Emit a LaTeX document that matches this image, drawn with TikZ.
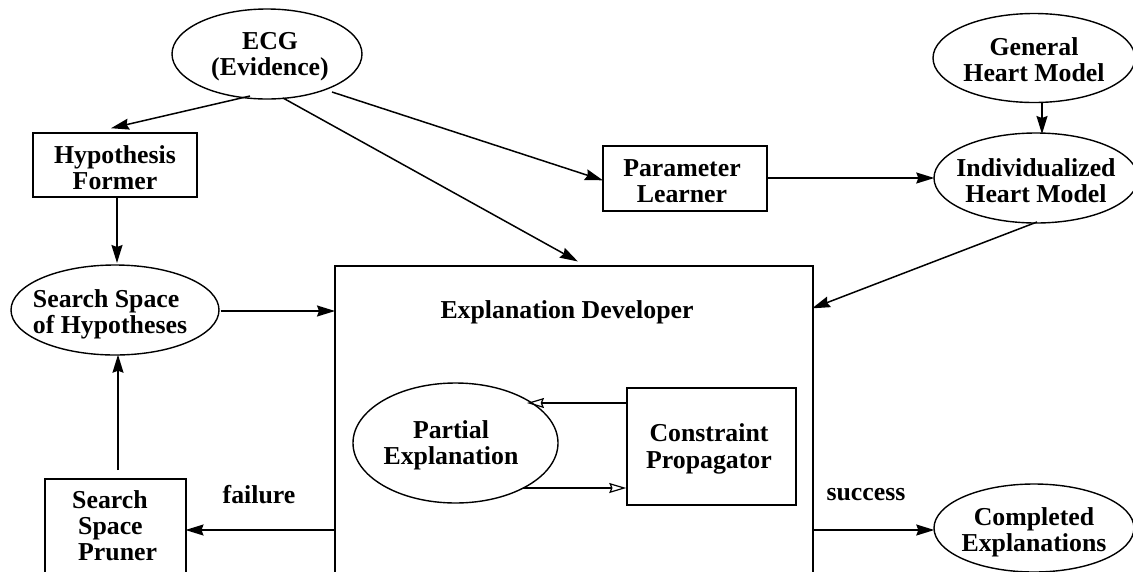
\documentclass[tikz,border=0pt]{standalone}
\usepackage{fontspec}
\setmainfont{Liberation Serif}
\usetikzlibrary{shapes.geometric,arrows.meta}
\tikzset{
 lbl/.style={font=\fontsize{25.8}{26.3}\selectfont\bfseries,align=center,inner sep=0pt},
 ell/.style={draw,line width=1.4pt,ellipse,inner sep=0pt},
 bx/.style={draw,line width=1.5pt,inner sep=0pt},
 arr/.style={line width=1.5pt,-{Stealth[length=18pt,width=11pt,inset=2pt]},shorten >=-1pt},
 oarr/.style={line width=1.2pt,-{Stealth[open,length=17pt,width=10pt,inset=2pt]}}
}
\begin{document}
\begin{tikzpicture}[x=1pt,y=-1pt]
\useasboundingbox (0,0) rectangle (1133,571);
\begin{scope}
\clip (0,0) rectangle (1133,571);
\node[ell,minimum width=190,minimum height=90] (ecg) at (267,54) {};
\node[lbl] (ecgt) at (270,57) {ECG\\(Evidence)};
\node[ell,minimum width=202,minimum height=89] (ghm) at (1034,58) {};
\node[lbl] (ghmt) at (1034,60) {General\\Heart Model};
\node[ell,minimum width=204,minimum height=90] (ihm) at (1036,178) {};
\node[lbl] (ihmt) at (1036,181) {Individualized\\Heart Model};
\node[bx,minimum width=164,minimum height=64] (hf) at (115,165) {};
\node[lbl] (hft) at (115,168) {Hypothesis\\Former};
\node[bx,minimum width=164,minimum height=65] (pl) at (685,178.5) {};
\node[lbl] (plt) at (682,181) {Parameter\\Learner};
\node[ell,minimum width=208,minimum height=90] (ss) at (115,310) {};
\node[lbl,align=left] (sst) at (110,314) {Search Space\\of Hypotheses};
\node[bx,line width=1.7pt,minimum width=478,minimum height=340,anchor=north west] (ed) at (334,265) {};
\node[lbl] (edl) at (567,312) {Explanation Developer};
\node[ell,minimum width=205,minimum height=120] (pe) at (455.5,443) {};
\node[lbl] (pet) at (451,445) {Partial\\Explanation};
\node[bx,minimum width=169,minimum height=117] (cp) at (711.5,446.5) {};
\node[lbl] (cpt) at (709,449) {Constraint\\Propagator};
\node[bx,minimum width=141,minimum height=130,anchor=north west] (sp) at (44,478) {};
\node[lbl,align=left,anchor=north west] (spt) at (72,490) {Search\\\hspace{6pt}Space\\\hspace{6pt}Pruner};
\node[ell,minimum width=200,minimum height=88] (ce) at (1034,528) {};
\node[lbl] (cet) at (1034,532) {Completed\\Explanations};
\node[lbl] (fail) at (259,495) {failure};
\node[lbl] (succ) at (866,495) {success};
\coordinate (a1) at (250,96);
\coordinate (a2) at (112,128);
\coordinate (b1) at (283,98);
\coordinate (b2) at (577,261);
\coordinate (c1) at (332,92);
\coordinate (c2) at (602,180);
\coordinate (d1) at (1037,222);
\coordinate (d2) at (813,308);
\coordinate (e1) at (118,470);
\coordinate (f1) at (527,403);
\coordinate (g1) at (523,488);
\draw[arr] (a1) -- (a2);
\draw[arr] (b1) -- (b2);
\draw[arr] (c1) -- (c2);
\draw[arr] (1042,102) -- (1042,133);
\draw[arr] (pl.east |- ihm.west) -- (ihm.west);
\draw[arr] (hf.south -| 117,0) -- (117,262);
\draw[arr] (ss.east) ++(1,1) -- (ed.west |- 0,311);
\draw[arr] (d1) -- (d2);
\draw[arr] (e1) -- (e1 |- ss.south);
\draw[arr] (ed.west |- 0,530) -- (sp.east |- 0,530);
\draw[arr] (ed.east |- 0,530) -- (ce.west |- 0,530);
\draw[oarr] (cp.west |- f1) -- (f1);
\draw[oarr] (g1) -- (cp.west |- g1);
\end{scope}
\end{tikzpicture}
\end{document}
